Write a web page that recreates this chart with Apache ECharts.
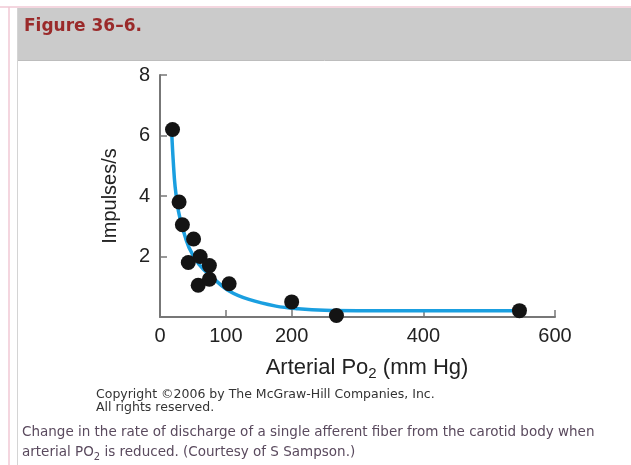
<!DOCTYPE html>
<html>
<head>
<meta charset="utf-8">
<script src="https://cdn.jsdelivr.net/npm/echarts@6/dist/echarts.min.js"></script>
<style>
  html, body { margin: 0; padding: 0; background: #fff; }
  #chart { width: 631px; height: 465px; }
</style>
</head>
<body>
<div id="chart"></div>
<script>
// measured points: arterial PO2 (mm Hg) vs impulses/s
const po2 = [19, 29, 34, 51, 43, 61, 75, 58, 75, 105, 200, 268, 546]
const impulses = [6.2, 3.8, 3.05, 2.58, 1.8, 2.0, 1.7, 1.05, 1.25, 1.1, 0.5, 0.05, 0.21]

// fitted curve
const curveX = [18, 20, 23, 28, 34, 44, 59, 80, 105, 135, 176, 210, 250, 300, 546]
const curveY = [6.0, 5.2, 4.3, 3.5, 2.97, 2.3, 1.75, 1.3, 0.86, 0.58, 0.36, 0.27, 0.22, 0.21, 0.21]

// tick values shown on the axes
const xTicks = [0, 100, 200, 400, 600]
const yTicks = [2, 4, 6, 8]

const pts = po2.map((x, i) => [x, impulses[i]])
const curve = curveX.map((x, i) => [x, curveY[i]])

const chart = echarts.init(document.getElementById('chart'))

chart.setOption({
  animation: false,
  backgroundColor: '#fff',
  grid: { left: 160, right: 76, top: 75, bottom: 148 },
  xAxis: {
    type: 'value',
    min: 0,
    max: 600,
    splitLine: { show: false },
    axisLine: { lineStyle: { color: '#777', width: 2 } },
    axisTick: { inside: true, length: 7, customValues: xTicks, lineStyle: { color: '#777', width: 1.5 } },
    axisLabel: {
      customValues: xTicks,
      color: '#222', fontFamily: 'Liberation Sans', fontSize: 20, margin: 9
    }
  },
  yAxis: {
    type: 'value',
    min: 0,
    max: 8,
    splitLine: { show: false },
    axisLine: { show: true, lineStyle: { color: '#777', width: 2 } },
    axisTick: { show: true, inside: true, length: 7, customValues: yTicks, lineStyle: { color: '#777', width: 1.5 } },
    axisLabel: {
      customValues: yTicks,
      color: '#222', fontFamily: 'Liberation Sans', fontSize: 20, margin: 10
    }
  },
  series: [
    {
      type: 'line',
      data: curve,
      smooth: 0.4,
      symbol: 'none',
      lineStyle: { color: '#1a9fe0', width: 3.5 },
      z: 2
    },
    {
      type: 'scatter',
      data: pts,
      symbolSize: 15,
      itemStyle: { color: '#141414', opacity: 1 },
      z: 3
    }
  ],
  graphic: [
    // page frame
    { type: 'rect', shape: { x: 18, y: 8, width: 613, height: 52 }, style: { fill: '#cbcbcb' }, silent: true },
    { type: 'line', shape: { x1: 0, y1: 7, x2: 631, y2: 7 }, style: { stroke: '#f0c8d4', lineWidth: 1.5 } },
    { type: 'line', shape: { x1: 9, y1: 7, x2: 9, y2: 465 }, style: { stroke: '#f0c8d4', lineWidth: 1.5 } },
    { type: 'line', shape: { x1: 17.5, y1: 8, x2: 17.5, y2: 465 }, style: { stroke: '#d4d4d4', lineWidth: 1 } },
    { type: 'line', shape: { x1: 18, y1: 60.5, x2: 631, y2: 60.5 }, style: { stroke: '#bdbdbd', lineWidth: 1 } },
    {
      type: 'text', left: 24, top: 18,
      style: { text: 'Figure 36–6.', fill: '#9a2a2a', font: 'bold 17px "DejaVu Sans"' }
    },
    // axis titles
    {
      type: 'text', x: 110, y: 196, rotation: Math.PI / 2,
      style: { text: 'Impulses/s', fill: '#222', font: '20px "Liberation Sans"', align: 'center', verticalAlign: 'middle' }
    },
    {
      type: 'text', x: 367, y: 368,
      style: {
        text: '{a|Arterial Po}{s|2}{a| (mm Hg)}',
        align: 'center', verticalAlign: 'middle',
        rich: {
          a: { fill: '#222', fontFamily: 'Liberation Sans', fontSize: 22 },
          s: { fill: '#222', fontFamily: 'Liberation Sans', fontSize: 15, padding: [11, 0, 0, 0] }
        }
      }
    },
    // captions
    {
      type: 'text', left: 96, top: 388,
      style: { text: 'Copyright ©2006 by The McGraw-Hill Companies, Inc.\nAll rights reserved.', fill: '#333', font: '12.5px "DejaVu Sans"', lineHeight: 13 }
    },
    {
      type: 'text', left: 22, top: 425,
      style: { text: 'Change in the rate of discharge of a single afferent fiber from the carotid body when', fill: '#5a4a5e', font: '13.5px "DejaVu Sans"' }
    },
    {
      type: 'text', left: 22, top: 445,
      style: {
        text: '{t|arterial PO}{s|2}{t| is reduced. (Courtesy of S Sampson.)}',
        rich: {
          t: { fill: '#5a4a5e', fontFamily: 'DejaVu Sans', fontSize: 13.5 },
          s: { fill: '#5a4a5e', fontFamily: 'DejaVu Sans', fontSize: 10, padding: [10, 0, 0, 0] }
        }
      }
    }
  ]
})
</script>
</body>
</html>
